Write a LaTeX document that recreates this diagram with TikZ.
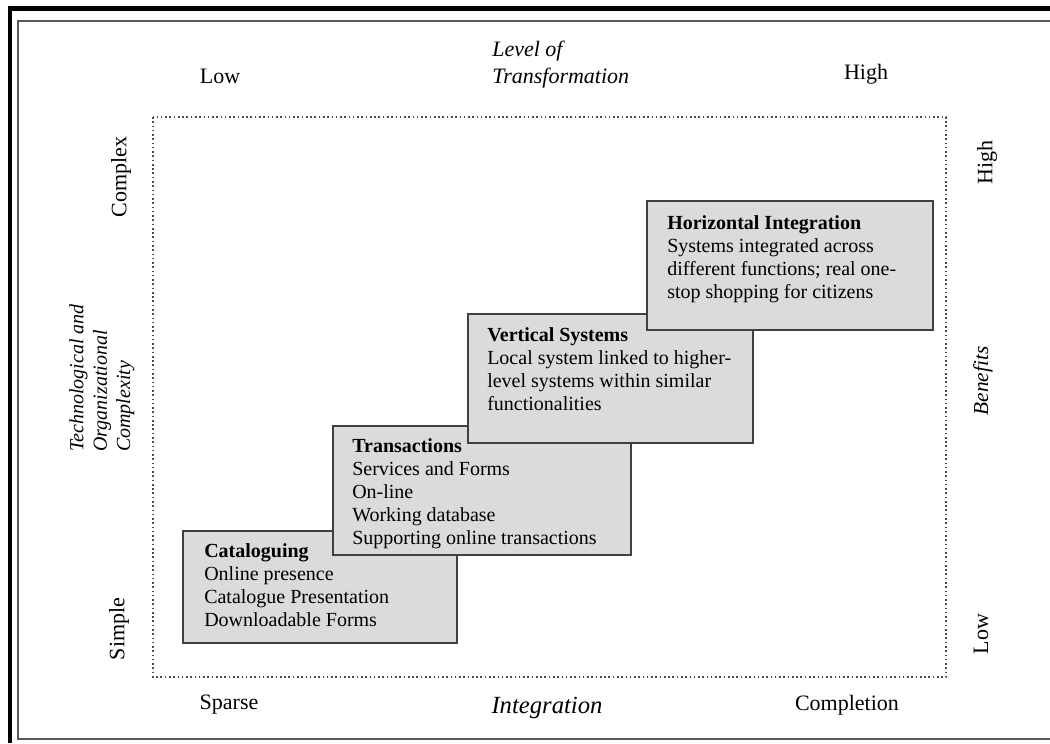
\documentclass[tikz,border=0pt]{standalone}
\usepackage{fontspec}
\setmainfont{Liberation Serif}
\usetikzlibrary{calc}

\begin{document}
\begin{tikzpicture}[x=0.75pt, y=-0.75pt]
\tikzset{stage/.style={draw=black!75, line width=1.5pt, fill=black!14}}
\tikzset{stagetext/.style={anchor=base west, align=left, inner sep=0, font=\fontsize{15}{17.25}\selectfont}}
\tikzset{axis/.style={inner sep=0, font=\fontsize{16.5}{19}\selectfont}}

\useasboundingbox (0,0) rectangle (1050,743);

% outer frame - cut off at right and bottom
\draw[line width=3.5pt] (10,743) -- (10,8.5) -- (1050,8.5);
\draw[line width=1.5pt, black!65] (1050,21) -- (18,21) -- (18,739) -- (1050,739);

% dotted field
\coordinate (fnw) at (153,117);
\coordinate (fse) at (946,677);
\draw[dotted, line width=1.2pt, black!70] (fnw) rectangle (fse);

% stages, later ones lie on top
% (base of a text node is the baseline of its last line)
\coordinate (c1nw) at (183,531);
\coordinate (c1se) at (457,643);
\coordinate (c2nw) at (333,426);
\coordinate (c2se) at (631,555);
\coordinate (c3nw) at (468,314);
\coordinate (c3se) at (753,443);
\coordinate (c4nw) at (647,201);
\coordinate (c4se) at (933,330);

\draw[stage] (c1nw) rectangle (c1se);
\node[stagetext] (catal) at ($(c1nw)+(21,95)$) {\textbf{Cataloguing}\\Online presence\\Catalogue Presentation\\Downloadable Forms};

\draw[stage] (c2nw) rectangle (c2se);
\node[stagetext] (trans) at ($(c2nw)+(19,118)$) {\textbf{Transactions}\\Services and Forms\\On-line\\Working database\\Supporting online transactions};

\draw[stage] (c3nw) rectangle (c3se);
\node[stagetext] (vert) at ($(c3nw)+(19,96)$) {\textbf{Vertical Systems}\\Local system linked to higher-\\level systems within similar\\functionalities};

\draw[stage] (c4nw) rectangle (c4se);
\node[stagetext] (horiz) at ($(c4nw)+(20,97)$) {\textbf{Horizontal Integration}\\Systems integrated across\\different functions; real one-\\stop shopping for citizens};

% top axis
\node[axis, anchor=base] (toplow) at (220,83) {Low};
\node[axis, anchor=base] (tophigh) at (866,79) {High};
\node[anchor=base west, align=left, inner sep=0, font=\itshape\fontsize{16.5}{20.25}\selectfont] (level) at (492,83) {Level of\\Transformation};

% bottom axis
\node[axis, anchor=base] (sparse) at (229,709) {Sparse};
\node[axis, anchor=base] (completion) at (847,710) {Completion};
\node[anchor=base, inner sep=0, font=\itshape\fontsize{18.5}{22}\selectfont] (integ) at (547,713) {Integration};

% left axis
\node[axis, rotate=90] (complex) at (121,177) {Complex};
\node[axis, rotate=90] (simple) at (119,629) {Simple};
\node[rotate=90, align=left, inner sep=0, font=\itshape\fontsize{15}{17.6}\selectfont] (techorg) at (102,378) {Technological and\\Organizational\\Complexity};

% right axis
\node[axis, rotate=90] (righthigh) at (987,162) {High};
\node[axis, rotate=90, font=\itshape\fontsize{16}{19}\selectfont] (benefits) at (983,381) {Benefits};
\node[axis, rotate=90] (rightlow) at (981,634) {Low};

\end{tikzpicture}
\end{document}
